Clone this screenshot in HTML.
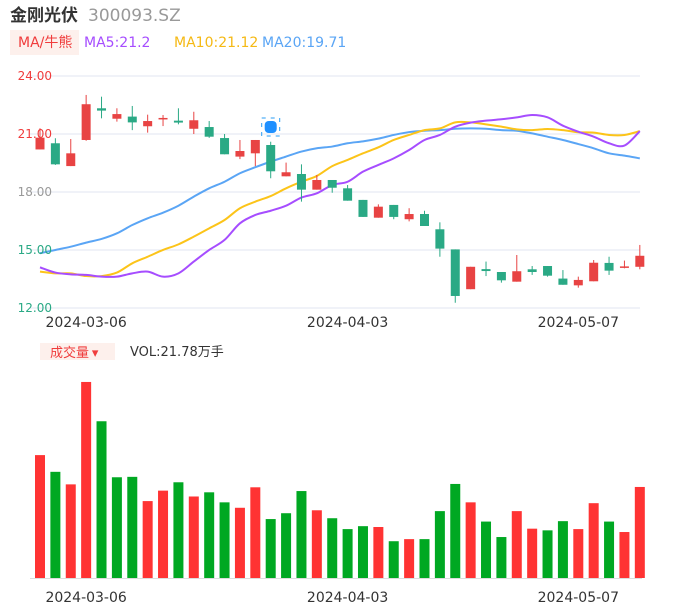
<!DOCTYPE html>
<html><head><meta charset="utf-8">
<style>
body{margin:0;width:686px;height:606px;background:#fff;overflow:hidden;font-family:"Liberation Sans","DejaVu Sans","Noto Sans CJK SC",sans-serif;}
svg{position:absolute;left:0;top:0}
</style></head>
<body>
<svg id="c" width="686" height="606">
<text x="10" y="21" font-size="17" font-weight="bold" fill="#333" font-family="Liberation Sans, Noto Sans CJK SC, sans-serif">金刚光伏</text>
<text x="88" y="21" font-size="17" fill="#999" font-family="DejaVu Sans, sans-serif">300093.SZ</text>
<rect x="10" y="30" width="69" height="25" fill="#fdf0ec"/>
<text x="18" y="47" font-size="14" fill="#f03c3c" font-family="DejaVu Sans, Noto Sans CJK SC, sans-serif">MA/牛熊</text>
<text x="84" y="47" font-size="14" fill="#a64dff" font-family="DejaVu Sans, sans-serif">MA5:21.2</text>
<text x="174" y="47" font-size="14" fill="#f5b914" font-family="DejaVu Sans, sans-serif">MA10:21.12</text>
<text x="262" y="47" font-size="14" fill="#5aa5f5" font-family="DejaVu Sans, sans-serif">MA20:19.71</text>
<rect x="40" y="343" width="75" height="17" fill="#fdf0ec"/>
<text x="50" y="357" font-size="13" fill="#f03c3c" font-family="Noto Sans CJK SC, sans-serif">成交量 ▾</text>
<text x="130" y="356" font-size="13" fill="#333" font-family="DejaVu Sans, Noto Sans CJK SC, sans-serif">VOL:21.78万手</text>
<g id="grid"></g><g id="ma"></g><g id="candles"></g><g id="vol"></g><g id="labels"></g>
</svg>
<script>
const opens=[20.2,20.52,19.34,20.69,22.33,21.79,21.9,21.4,21.8,21.69,21.27,21.36,20.79,19.83,20.0,20.43,18.81,18.93,18.12,18.62,18.19,17.59,16.67,17.33,16.59,16.86,16.07,15.03,12.97,14.01,13.86,13.36,14.0,14.17,13.52,13.17,13.38,14.33,14.1,14.13];
const closes=[20.81,19.43,20.0,22.54,22.21,22.03,21.6,21.67,21.83,21.59,21.71,20.86,19.95,20.12,20.69,19.07,19.02,18.12,18.62,18.22,17.55,16.71,17.24,16.71,16.86,16.24,15.07,12.62,14.13,13.91,13.43,13.9,13.86,13.67,13.2,13.45,14.34,13.93,14.15,14.7];
const highs=[21.3,20.78,20.74,23.02,22.93,22.33,22.45,22.0,21.98,22.33,22.15,21.67,21.0,20.69,20.69,20.6,19.52,19.43,18.88,18.62,18.36,17.59,17.36,17.33,17.16,17.03,16.43,15.03,14.13,14.4,13.86,14.74,14.17,14.17,13.96,13.62,14.48,14.65,14.45,15.26];
const lows=[20.2,19.4,19.34,20.65,21.81,21.64,21.2,21.07,21.41,21.5,21.0,20.8,19.95,19.7,19.34,18.71,18.81,17.5,18.12,17.96,17.55,16.71,16.67,16.59,16.48,16.24,14.65,12.27,12.97,13.65,13.31,13.36,13.71,13.62,13.2,13.05,13.38,13.71,14.05,14.0];
const ma5=[14.1,13.83,13.74,13.71,13.62,13.62,13.79,13.88,13.62,13.79,14.4,15.0,15.52,16.38,16.81,17.03,17.29,17.71,17.93,18.36,18.53,19.05,19.4,19.74,20.17,20.69,20.95,21.38,21.59,21.69,21.76,21.86,21.98,21.86,21.43,21.12,20.86,20.52,20.4,21.15];
const ma10=[13.88,13.79,13.79,13.65,13.65,13.83,14.31,14.65,15.0,15.29,15.69,16.12,16.55,17.16,17.5,17.79,18.19,18.53,18.83,19.34,19.66,20.0,20.31,20.69,20.95,21.2,21.29,21.6,21.6,21.5,21.38,21.24,21.2,21.26,21.2,21.09,21.07,20.95,20.95,21.15];
const ma20=[14.83,15.0,15.17,15.38,15.57,15.86,16.29,16.64,16.93,17.29,17.76,18.19,18.53,18.97,19.28,19.57,19.83,20.09,20.26,20.35,20.52,20.62,20.76,20.95,21.1,21.17,21.2,21.27,21.29,21.27,21.2,21.17,21.03,20.86,20.69,20.48,20.26,20.0,19.88,19.74];
const volumes=[29.4,25.4,22.4,46.9,37.5,24.1,24.2,18.4,20.9,22.9,19.5,20.5,18.1,16.8,21.7,14.1,15.5,20.8,16.2,14.3,11.7,12.4,12.2,8.8,9.3,9.3,16.0,22.5,18.1,13.5,9.8,16.0,11.8,11.4,13.6,11.7,17.9,13.5,11.0,21.78];
const volUp=[1,0,1,1,0,0,0,1,1,0,1,0,0,1,1,0,0,0,1,0,0,0,1,0,1,0,0,0,1,0,0,1,1,0,0,1,1,0,1,1];
const priceTicks=[24,21,18,15,12];
const tickColors=["#f03c3c","#f03c3c","#999","#2aa985","#2aa985"];
const dateLabels=["2024-03-06","2024-04-03","2024-05-07"];
const dateIdx=[3,20,35];

const NS="http://www.w3.org/2000/svg";
const x=i=>40+i*15.38;
const y=v=>76+(24-v)*19.33;
const vy=v=>578-v*4.18;
function mk(tag,attrs,parent){const e=document.createElementNS(NS,tag);for(const k in attrs)e.setAttribute(k,attrs[k]);document.getElementById(parent).appendChild(e);return e;}

priceTicks.forEach((t,i)=>{
  const l=mk('line',{x1:30,x2:640,y1:y(t),y2:y(t),stroke:'#e1e6f0','stroke-width':1},'grid');
  
  
  const tx=mk('text',{x:52,y:y(t)+4,'text-anchor':'end','font-size':12,fill:tickColors[i],'font-family':'DejaVu Sans, sans-serif'},'labels');
  tx.textContent=t.toFixed(2);
  
  
});
const base=mk('line',{x1:30,x2:642,y1:578.5,y2:578.5,stroke:'#ddd','stroke-width':1},'grid');



function line(arr,color,name){
  const pts=arr.map((v,i)=>[x(i),y(v)]);
  let d='M'+pts[0][0]+','+pts[0][1];
  for(let i=0;i<pts.length-1;i++){
    const p0=pts[Math.max(0,i-1)],p1=pts[i],p2=pts[i+1],p3=pts[Math.min(pts.length-1,i+2)];
    const c1=[p1[0]+(p2[0]-p0[0])/6,p1[1]+(p2[1]-p0[1])/6];
    const c2=[p2[0]-(p3[0]-p1[0])/6,p2[1]-(p3[1]-p1[1])/6];
    d+=' C'+c1.join(',')+' '+c2.join(',')+' '+p2.join(',');
  }
  const p=mk('path',{d:d,fill:'none',stroke:color,'stroke-width':2},'ma');
  
  
}
line(ma20,'#5aa5f5','ma20-line');
line(ma10,'#fcc419','ma10-line');
line(ma5,'#a64dff','ma5-line');

opens.forEach((o,i)=>{
  const c=closes[i],up=c>=o,col=up?'#e84343':'#2aa985';
  const w=mk('line',{x1:x(i),x2:x(i),y1:y(highs[i]),y2:y(lows[i]),stroke:col,'stroke-width':1},'candles');
  
  
  const t=Math.min(y(o),y(c)),h=Math.max(1.5,Math.abs(y(o)-y(c)));
  const r=mk('rect',{x:x(i)-4.5,y:t,width:9,height:h,fill:col},'candles');
  
  
});
volumes.forEach((v,i)=>{
  const r=mk('rect',{x:x(i)-5,y:vy(v),width:10,height:578-vy(v),fill:volUp[i]?'#ff3333':'#00a822'},'vol');
  
  
});
dateLabels.forEach((d,k)=>{
  [322,597].forEach(yy=>{
    const t=mk('text',{x:x(dateIdx[k]),y:yy+5,'text-anchor':'middle','font-size':14,fill:'#333','font-family':'DejaVu Sans, sans-serif'},'labels');
    t.textContent=d;
    
    
  });
});
const ix=x(15),iy=127;
const f=mk('rect',{x:ix-9,y:iy-9,width:18,height:18,fill:'none',stroke:'#2a9df4','stroke-width':1,'stroke-dasharray':'4 5'},'labels');


const cc=mk('rect',{x:ix-6,y:iy-6,width:12,height:12,rx:4,fill:'#1e90ff'},'labels');


</script>
</body></html>
